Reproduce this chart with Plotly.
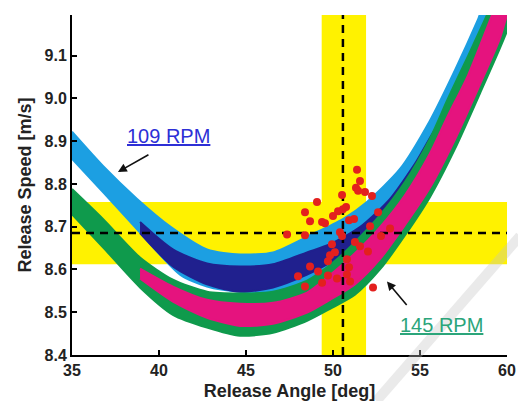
import plotly.graph_objects as go

# ---------------- axes ----------------
angle_range = [35, 60]
speed_range = [8.4, 9.195]
angle_ticks = [35, 40, 45, 50, 55, 60]
speed_ticks = [8.4, 8.5, 8.6, 8.7, 8.8, 8.9, 9.0, 9.1]
speed_tick_text = ["8.4", "8.5", "8.6", "8.7", "8.8", "8.9", "9.0", "9.1"]

# ---------------- target & tolerance windows ----------------
angle_target = 50.57
speed_target = 8.685
angle_window = [49.35, 51.9]
speed_window = [8.612, 8.758]

# ---------------- 109 RPM band (light blue) ----------------
rpm109_upper_angle = [35.00, 36.78, 38.74, 40.63, 42.76, 44.66, 46.55, 48.68, 50.57, 51.95, 53.85, 55.57, 57.01, 58.33, 58.85]
rpm109_upper_speed = [8.922, 8.842, 8.765, 8.701, 8.647, 8.635, 8.640, 8.680, 8.718, 8.758, 8.835, 8.948, 9.066, 9.184, 9.235]
rpm109_lower_angle = [35.00, 36.78, 38.74, 41.21, 42.76, 44.66, 46.55, 48.68, 50.57, 52.70, 55.00, 57.30, 59.60, 60.29, 60.8]
rpm109_lower_speed = [8.859, 8.781, 8.694, 8.588, 8.560, 8.548, 8.548, 8.565, 8.600, 8.671, 8.776, 8.929, 9.129, 9.200, 9.26]

# ---------------- 109 RPM subset (navy) ----------------
rpm109_sub_upper_angle = [38.91, 40.80, 42.76, 44.66, 46.55, 48.51, 49.83, 51.55, 53.28, 54.71, 56.15]
rpm109_sub_upper_speed = [8.711, 8.647, 8.614, 8.607, 8.612, 8.640, 8.659, 8.699, 8.765, 8.847, 8.941]
rpm109_sub_lower_angle = [38.91, 40.80, 42.76, 44.66, 46.55, 48.51, 49.83, 51.55, 53.28, 54.71, 56.15]
rpm109_sub_lower_speed = [8.685, 8.607, 8.565, 8.548, 8.558, 8.588, 8.616, 8.659, 8.706, 8.776, 8.871]

# ---------------- 145 RPM band (green) ----------------
rpm145_upper_angle = [35.00, 36.78, 38.91, 40.80, 42.76, 44.66, 46.55, 48.51, 50.00, 51.26, 52.70, 54.14, 55.57, 56.61, 57.76, 58.85, 59.30]
rpm145_upper_speed = [8.788, 8.718, 8.628, 8.576, 8.548, 8.544, 8.548, 8.574, 8.616, 8.664, 8.727, 8.805, 8.906, 9.000, 9.099, 9.195, 9.235]
rpm145_lower_angle = [35.00, 36.78, 38.91, 40.80, 42.76, 44.66, 46.55, 48.51, 49.83, 51.26, 52.70, 54.14, 55.57, 57.01, 58.45, 59.60, 60.29, 60.63]
rpm145_lower_speed = [8.729, 8.652, 8.558, 8.494, 8.464, 8.445, 8.452, 8.480, 8.508, 8.541, 8.600, 8.680, 8.769, 8.882, 9.012, 9.118, 9.188, 9.235]

# ---------------- 145 RPM subset (magenta) ----------------
rpm145_sub_upper_angle = [38.91, 40.80, 42.76, 44.66, 46.55, 48.51, 50.00, 51.26, 52.70, 54.14, 55.57, 56.61, 57.76, 59.14, 59.54]
rpm145_sub_upper_speed = [8.602, 8.560, 8.529, 8.520, 8.522, 8.546, 8.593, 8.638, 8.699, 8.774, 8.871, 8.960, 9.054, 9.195, 9.235]
rpm145_sub_lower_angle = [38.91, 40.80, 42.76, 44.66, 46.55, 48.51, 49.83, 51.26, 52.70, 54.14, 55.57, 57.01, 58.45, 59.60, 60.00, 60.34]
rpm145_sub_lower_speed = [8.579, 8.525, 8.487, 8.468, 8.473, 8.499, 8.529, 8.565, 8.624, 8.704, 8.791, 8.904, 9.033, 9.141, 9.195, 9.235]

# ---------------- measured releases (red dots) ----------------
measured_angle = [51.38, 51.55, 51.32, 51.44, 51.84, 52.24, 50.52, 49.08, 48.39, 48.68,
                  49.37, 49.54, 50.00, 50.29, 50.57, 50.75, 52.59, 50.92, 51.21, 52.13,
                  53.28, 47.36, 48.39, 50.40, 50.52, 52.76, 51.26, 49.94, 51.55, 52.01,
                  50.11, 49.83, 49.71, 50.80, 48.68, 50.92, 49.14, 50.80, 49.71, 50.23,
                  47.99, 48.39, 49.37, 50.98, 52.30]
measured_speed = [8.833, 8.807, 8.791, 8.784, 8.781, 8.772, 8.774, 8.758, 8.734, 8.713,
                  8.711, 8.708, 8.725, 8.736, 8.741, 8.746, 8.734, 8.715, 8.718, 8.701,
                  8.696, 8.682, 8.680, 8.687, 8.678, 8.678, 8.664, 8.659, 8.654, 8.642,
                  8.640, 8.633, 8.619, 8.624, 8.607, 8.605, 8.595, 8.588, 8.586, 8.579,
                  8.584, 8.560, 8.569, 8.572, 8.558]

# ---------------- labels ----------------
label_109 = "109 RPM"
label_145 = "145 RPM"
label_109_pos = (40.52, 8.913)
label_145_pos = (56.21, 8.471)
arrow_109_head = (37.64, 8.828)
arrow_145_head = (53.10, 8.572)

YELLOW = "#fff200"
LIGHT_BLUE = "#1c9fe2"
NAVY = "#20208e"
GREEN = "#0f9a4c"
MAGENTA = "#e5137e"
RED = "#e3201e"


def band(ua, us, la, ls, color):
    return go.Scatter(
        x=ua + la[::-1], y=us + ls[::-1],
        mode="lines", fill="toself", fillcolor=color,
        line=dict(color=color, width=2, shape="spline", smoothing=0.7),
        hoverinfo="skip", showlegend=False,
    )


fig = go.Figure()
fig.add_trace(band(rpm109_upper_angle, rpm109_upper_speed, rpm109_lower_angle, rpm109_lower_speed, LIGHT_BLUE))
fig.add_trace(band(rpm109_sub_upper_angle, rpm109_sub_upper_speed, rpm109_sub_lower_angle, rpm109_sub_lower_speed, NAVY))
fig.add_trace(band(rpm145_upper_angle, rpm145_upper_speed, rpm145_lower_angle, rpm145_lower_speed, GREEN))
fig.add_trace(band(rpm145_sub_upper_angle, rpm145_sub_upper_speed, rpm145_sub_lower_angle, rpm145_sub_lower_speed, MAGENTA))

# dashed target lines
fig.add_trace(go.Scatter(x=angle_range, y=[speed_target, speed_target], mode="lines",
                         line=dict(color="black", width=2.5, dash="8px,6px"),
                         hoverinfo="skip", showlegend=False))
fig.add_trace(go.Scatter(x=[angle_target, angle_target], y=speed_range, mode="lines",
                         line=dict(color="black", width=2.5, dash="8px,6px"),
                         hoverinfo="skip", showlegend=False))

# measured points
fig.add_trace(go.Scatter(x=measured_angle, y=measured_speed, mode="markers",
                         marker=dict(color=RED, size=8, line=dict(width=0)),
                         showlegend=False))

# yellow tolerance windows
fig.add_shape(type="rect", xref="x", yref="y", x0=angle_range[0], x1=angle_range[1],
              y0=speed_window[0], y1=speed_window[1], fillcolor=YELLOW,
              line=dict(width=0), layer="below")
fig.add_shape(type="rect", xref="x", yref="y", x0=angle_window[0], x1=angle_window[1],
              y0=speed_range[0], y1=speed_range[1], fillcolor=YELLOW,
              line=dict(width=0), layer="below")

# faint grey watermark stroke
fig.add_shape(type="line", xref="paper", yref="paper", x0=0.70, y0=-0.135, x1=1.03, y1=0.35,
              line=dict(color="rgba(195,195,195,0.35)", width=10), layer="above")

# labels and arrows
fig.add_annotation(x=label_109_pos[0], y=label_109_pos[1], text="<u>" + label_109 + "</u>",
                   showarrow=False, font=dict(family="Liberation Sans", size=20, color="#2d2fd6"))
fig.add_annotation(x=label_145_pos[0], y=label_145_pos[1], text="<u>" + label_145 + "</u>",
                   showarrow=False, font=dict(family="Liberation Sans", size=20, color="#2ba57a"))
fig.add_annotation(x=arrow_109_head[0], y=arrow_109_head[1], text="", showarrow=True,
                   ax=32, ay=-18, arrowhead=2, arrowsize=1.1, arrowwidth=1.6, arrowcolor="#111")
fig.add_annotation(x=arrow_145_head[0], y=arrow_145_head[1], text="", showarrow=True,
                   ax=21, ay=25, arrowhead=2, arrowsize=1.1, arrowwidth=1.6, arrowcolor="#111")

axis_font = dict(family="Liberation Sans", size=16, color="#222", weight="bold")
title_font = dict(family="Liberation Sans", size=18, color="#222", weight="bold")

fig.update_xaxes(range=angle_range, tickvals=angle_ticks, ticks="inside", ticklen=5,
                 tickwidth=1.5, tickcolor="black", showline=True, linecolor="black",
                 linewidth=2, showgrid=False, zeroline=False, tickfont=axis_font,
                 title=dict(text="Release Angle [deg]", font=title_font, standoff=6),
                 automargin=False)
fig.update_yaxes(range=speed_range, tickvals=speed_ticks, ticktext=speed_tick_text,
                 ticks="inside", ticklen=5, tickwidth=1.5, tickcolor="black", showline=True,
                 linecolor="black", linewidth=2, showgrid=False, zeroline=False,
                 tickfont=axis_font,
                 title=dict(text="Release Speed [m/s]", font=title_font, standoff=8),
                 automargin=False)

fig.update_layout(width=518, height=401, margin=dict(l=72, r=11, t=15, b=46),
                  plot_bgcolor="white", paper_bgcolor="white", showlegend=False)

fig.write_html("out.html")
